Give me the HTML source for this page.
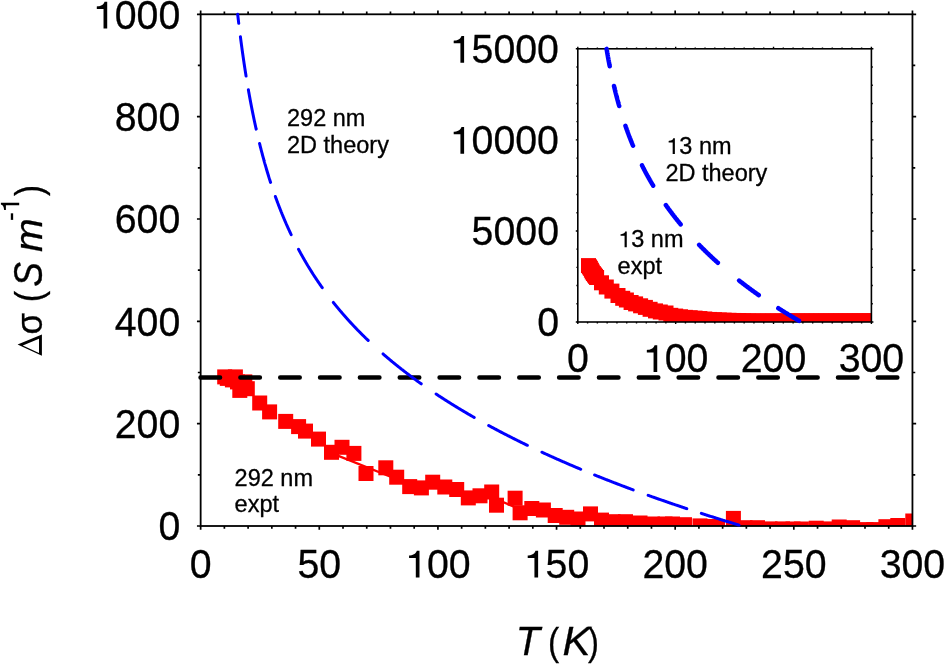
<!DOCTYPE html><html><head><meta charset="utf-8"><style>html,body{margin:0;padding:0;background:#fff;overflow:hidden}svg{display:block;will-change:transform}text{font-family:"Liberation Sans",sans-serif;stroke:#000;stroke-width:0.3px}</style></head><body>
<svg width="944" height="664" viewBox="0 0 944 664">
<defs><clipPath id="cm"><rect x="200.65" y="14.30" width="711.80" height="511.70"/></clipPath>
<clipPath id="ci"><rect x="577.80" y="48.80" width="293.60" height="273.20"/></clipPath></defs>
<g clip-path="url(#cm)" fill="#ff0000">
<path d="M331.5 453.2L400 480.5M497 499.5L514 506.6" fill="none" stroke="#ff0000" stroke-width="2.4"/>
<rect x="217.20" y="369.40" width="15.0" height="15.0"/>
<rect x="219.80" y="370.90" width="15.0" height="15.0"/>
<rect x="224.90" y="372.40" width="15.0" height="15.0"/>
<rect x="227.90" y="369.40" width="15.0" height="15.0"/>
<rect x="230.00" y="374.40" width="15.0" height="15.0"/>
<rect x="232.30" y="382.90" width="15.0" height="15.0"/>
<rect x="237.30" y="374.40" width="15.0" height="15.0"/>
<rect x="239.80" y="381.20" width="15.0" height="15.0"/>
<rect x="252.20" y="395.50" width="15.0" height="15.0"/>
<rect x="262.10" y="404.40" width="15.0" height="15.0"/>
<rect x="278.20" y="413.90" width="15.0" height="15.0"/>
<rect x="291.10" y="419.10" width="15.0" height="15.0"/>
<rect x="298.00" y="423.60" width="15.0" height="15.0"/>
<rect x="311.00" y="431.60" width="15.0" height="15.0"/>
<rect x="324.00" y="444.80" width="15.0" height="15.0"/>
<rect x="334.50" y="439.80" width="15.0" height="15.0"/>
<rect x="346.40" y="445.90" width="15.0" height="15.0"/>
<rect x="358.50" y="466.00" width="15.0" height="15.0"/>
<rect x="378.30" y="460.30" width="15.0" height="15.0"/>
<rect x="389.20" y="469.70" width="15.0" height="15.0"/>
<rect x="402.20" y="479.10" width="15.0" height="15.0"/>
<rect x="413.90" y="480.40" width="15.0" height="15.0"/>
<rect x="425.20" y="474.70" width="15.0" height="15.0"/>
<rect x="437.30" y="479.50" width="15.0" height="15.0"/>
<rect x="449.20" y="482.00" width="15.0" height="15.0"/>
<rect x="460.80" y="490.40" width="15.0" height="15.0"/>
<rect x="472.50" y="488.30" width="15.0" height="15.0"/>
<rect x="484.20" y="484.50" width="15.0" height="15.0"/>
<rect x="489.00" y="497.70" width="15.0" height="15.0"/>
<rect x="507.60" y="490.70" width="15.0" height="15.0"/>
<rect x="512.60" y="505.30" width="15.0" height="15.0"/>
<rect x="524.30" y="501.00" width="15.0" height="15.0"/>
<rect x="535.90" y="502.50" width="15.0" height="15.0"/>
<rect x="547.70" y="508.00" width="15.0" height="15.0"/>
<rect x="559.20" y="509.80" width="15.0" height="15.0"/>
<rect x="570.50" y="511.50" width="15.0" height="15.0"/>
<rect x="583.00" y="506.40" width="15.0" height="15.0"/>
<rect x="594.00" y="512.60" width="15.0" height="15.0"/>
<rect x="605.50" y="514.20" width="15.0" height="15.0"/>
<rect x="618.00" y="514.20" width="15.0" height="15.0"/>
<rect x="632.50" y="515.50" width="15.0" height="15.0"/>
<rect x="645.00" y="516.50" width="15.0" height="15.0"/>
<rect x="657.50" y="516.50" width="15.0" height="15.0"/>
<rect x="665.00" y="516.50" width="15.0" height="15.0"/>
<rect x="677.00" y="517.20" width="15.0" height="15.0"/>
<rect x="692.50" y="518.40" width="15.0" height="15.0"/>
<rect x="704.50" y="519.00" width="15.0" height="15.0"/>
<rect x="710.00" y="519.50" width="15.0" height="15.0"/>
<rect x="725.90" y="510.90" width="15.0" height="15.0"/>
<rect x="737.50" y="520.20" width="15.0" height="15.0"/>
<rect x="750.00" y="520.20" width="15.0" height="15.0"/>
<rect x="762.50" y="521.40" width="15.0" height="15.0"/>
<rect x="775.00" y="521.40" width="15.0" height="15.0"/>
<rect x="785.50" y="521.50" width="15.0" height="15.0"/>
<rect x="793.90" y="521.50" width="15.0" height="15.0"/>
<rect x="808.70" y="520.70" width="15.0" height="15.0"/>
<rect x="817.60" y="521.40" width="15.0" height="15.0"/>
<rect x="831.70" y="519.50" width="15.0" height="15.0"/>
<rect x="845.10" y="520.20" width="15.0" height="15.0"/>
<rect x="858.50" y="522.10" width="15.0" height="15.0"/>
<rect x="866.30" y="522.10" width="15.0" height="15.0"/>
<rect x="878.40" y="519.20" width="15.0" height="15.0"/>
<rect x="890.30" y="518.00" width="15.0" height="15.0"/>
<rect x="905.30" y="513.50" width="15.0" height="15.0"/>
</g>
<line x1="200.5" y1="377.5" x2="912.4" y2="377.5" stroke="#000" stroke-width="4.4" stroke-linecap="round" stroke-dasharray="19.6 20.24"/>
<g stroke="#000" stroke-width="1.8" fill="none">
<rect x="200.65" y="14.30" width="711.80" height="511.70"/>
<path d="M200.65 526.00v3.70M200.65 14.30v-3.70M224.38 526.00v2.80M224.38 14.30v-2.80M248.10 526.00v2.80M248.10 14.30v-2.80M271.83 526.00v2.80M271.83 14.30v-2.80M295.56 526.00v2.80M295.56 14.30v-2.80M319.28 526.00v3.70M319.28 14.30v-3.70M343.01 526.00v2.80M343.01 14.30v-2.80M366.74 526.00v2.80M366.74 14.30v-2.80M390.46 526.00v2.80M390.46 14.30v-2.80M414.19 526.00v2.80M414.19 14.30v-2.80M437.92 526.00v3.70M437.92 14.30v-3.70M461.64 526.00v2.80M461.64 14.30v-2.80M485.37 526.00v2.80M485.37 14.30v-2.80M509.10 526.00v2.80M509.10 14.30v-2.80M532.82 526.00v2.80M532.82 14.30v-2.80M556.55 526.00v3.70M556.55 14.30v-3.70M580.28 526.00v2.80M580.28 14.30v-2.80M604.00 526.00v2.80M604.00 14.30v-2.80M627.73 526.00v2.80M627.73 14.30v-2.80M651.46 526.00v2.80M651.46 14.30v-2.80M675.18 526.00v3.70M675.18 14.30v-3.70M698.91 526.00v2.80M698.91 14.30v-2.80M722.64 526.00v2.80M722.64 14.30v-2.80M746.36 526.00v2.80M746.36 14.30v-2.80M770.09 526.00v2.80M770.09 14.30v-2.80M793.82 526.00v3.70M793.82 14.30v-3.70M817.54 526.00v2.80M817.54 14.30v-2.80M841.27 526.00v2.80M841.27 14.30v-2.80M865.00 526.00v2.80M865.00 14.30v-2.80M888.72 526.00v2.80M888.72 14.30v-2.80M912.45 526.00v3.70M912.45 14.30v-3.70M200.65 526.00h-3.70M912.45 526.00h3.70M200.65 474.83h-2.80M912.45 474.83h2.80M200.65 423.66h-3.70M912.45 423.66h3.70M200.65 372.49h-2.80M912.45 372.49h2.80M200.65 321.32h-3.70M912.45 321.32h3.70M200.65 270.15h-2.80M912.45 270.15h2.80M200.65 218.98h-3.70M912.45 218.98h3.70M200.65 167.81h-2.80M912.45 167.81h2.80M200.65 116.64h-3.70M912.45 116.64h3.70M200.65 65.47h-2.80M912.45 65.47h2.80M200.65 14.30h-3.70M912.45 14.30h3.70" stroke-width="1.7"/>
</g>
<path d="M237.69 14.33 L237.77 15.06 L237.85 15.80 L237.94 16.53 L238.02 17.27 L238.11 18.00 L238.19 18.73 L238.28 19.46 L238.36 20.18 L238.45 20.91 L238.54 21.64 L238.62 22.36 L238.71 23.08 L238.73 23.26 M240.41 36.78 L240.50 37.48 L240.59 38.18 L240.68 38.88 L240.77 39.57 L240.86 40.27 L240.95 40.96 L241.04 41.66 L241.13 42.35 L241.23 43.04 L241.32 43.73 L241.41 44.42 L241.50 45.11 L241.60 45.80 L241.69 46.48 L241.78 47.17 L241.88 47.85 L241.97 48.53 L242.06 49.22 L242.16 49.90 L242.25 50.58 L242.35 51.25 L242.44 51.93 L242.54 52.61 L242.63 53.28 L242.73 53.96 L242.82 54.63 L242.92 55.30 L243.01 55.97 L243.11 56.64 L243.21 57.31 L243.30 57.98 L243.40 58.65 L243.50 59.31 L243.59 59.98 L243.69 60.64 L243.79 61.30 L243.89 61.97 L243.98 62.63 L244.08 63.29 L244.18 63.95 L244.28 64.60 L244.38 65.26 L244.48 65.92 L244.58 66.57 L244.68 67.22 L244.78 67.88 L244.88 68.53 L244.98 69.18 L245.08 69.83 L245.18 70.48 L245.28 71.12 L245.38 71.77 L245.48 72.42 L245.59 73.06 L245.69 73.70 L245.79 74.35 L245.89 74.99 L246.00 75.63 L246.07 76.11 M248.37 89.79 L248.48 90.41 L248.59 91.02 L248.69 91.64 L248.80 92.26 L248.91 92.87 L249.02 93.48 L249.13 94.10 L249.24 94.71 L249.35 95.32 L249.46 95.93 L249.57 96.54 L249.69 97.15 L249.80 97.75 L249.91 98.36 L250.02 98.97 L250.13 99.57 L250.24 100.17 L250.36 100.78 L250.47 101.38 L250.58 101.98 L250.70 102.58 L250.81 103.18 L250.92 103.78 L251.04 104.37 L251.15 104.97 L251.27 105.57 L251.38 106.16 L251.50 106.75 L251.61 107.35 L251.73 107.94 L251.84 108.53 L251.96 109.12 L252.08 109.71 L252.19 110.30 L252.31 110.89 L252.43 111.47 L252.55 112.06 L252.66 112.64 L252.78 113.23 L252.90 113.81 L253.02 114.40 L253.14 114.98 L253.26 115.56 L253.38 116.14 L253.50 116.72 L253.62 117.30 L253.74 117.87 L253.86 118.45 L253.98 119.03 L254.10 119.60 L254.22 120.18 L254.34 120.75 L254.46 121.32 L254.59 121.89 L254.71 122.46 L254.83 123.03 L254.95 123.60 L255.08 124.17 L255.20 124.74 L255.32 125.31 L255.45 125.87 L255.57 126.44 L255.70 127.00 L255.82 127.57 L255.95 128.13 L256.07 128.69 L256.17 129.11 M259.57 143.57 L259.71 144.11 L259.84 144.65 L259.98 145.19 L260.11 145.73 L260.25 146.27 L260.38 146.80 L260.52 147.34 L260.65 147.87 L260.79 148.41 L260.93 148.94 L261.06 149.48 L261.20 150.01 L261.34 150.54 L261.47 151.07 L261.61 151.60 L261.75 152.13 L261.89 152.66 L262.03 153.19 L262.17 153.72 L262.31 154.24 L262.45 154.77 L262.59 155.29 L262.73 155.82 L262.87 156.34 L263.01 156.87 L263.15 157.39 L263.29 157.91 L263.44 158.43 L263.58 158.95 L263.72 159.47 L263.87 159.99 L264.01 160.51 L264.15 161.03 L264.30 161.54 L264.44 162.06 L264.59 162.57 L264.73 163.09 L264.88 163.60 L265.02 164.12 L265.17 164.63 L265.32 165.14 L265.46 165.65 L265.61 166.16 L265.76 166.67 L265.90 167.18 L266.05 167.69 L266.20 168.20 L266.35 168.71 L266.50 169.22 L266.65 169.72 L266.80 170.23 L266.95 170.73 L267.10 171.24 L267.25 171.74 L267.40 172.24 L267.55 172.75 L267.70 173.25 L267.86 173.75 L268.01 174.25 L268.16 174.75 L268.32 175.25 L268.47 175.75 L268.62 176.24 L268.78 176.74 L268.93 177.24 L269.09 177.73 L269.24 178.23 L269.40 178.72 L269.55 179.22 L269.71 179.71 L269.87 180.21 L270.03 180.70 L270.18 181.19 L270.34 181.68 L270.50 182.17 L270.58 182.42 M275.37 196.49 L275.54 196.96 L275.71 197.44 L275.88 197.91 L276.05 198.38 L276.23 198.85 L276.40 199.32 L276.57 199.79 L276.74 200.26 L276.91 200.72 L277.09 201.19 L277.26 201.66 L277.44 202.13 L277.61 202.59 L277.78 203.06 L277.96 203.52 L278.14 203.99 L278.31 204.45 L278.49 204.91 L278.66 205.38 L278.84 205.84 L279.02 206.30 L279.20 206.76 L279.37 207.22 L279.55 207.68 L279.73 208.14 L279.91 208.60 L280.09 209.06 L280.27 209.52 L280.45 209.98 L280.63 210.43 L280.82 210.89 L281.00 211.35 L281.18 211.80 L281.36 212.26 L281.55 212.71 L281.73 213.16 L281.91 213.62 L282.10 214.07 L282.28 214.52 L282.47 214.98 L282.66 215.43 L282.84 215.88 L283.03 216.33 L283.21 216.78 L283.40 217.23 L283.59 217.68 L283.78 218.13 L283.97 218.57 L284.16 219.02 L284.35 219.47 L284.54 219.92 L284.73 220.36 L284.92 220.81 L285.11 221.25 L285.30 221.70 L285.49 222.14 L285.69 222.59 L285.88 223.03 L286.07 223.47 L286.27 223.91 L286.46 224.36 L286.66 224.80 L286.85 225.24 L287.05 225.68 L287.24 226.12 L287.44 226.56 L287.64 227.00 L287.83 227.44 L288.03 227.88 L288.23 228.31 L288.43 228.75 L288.63 229.19 L288.83 229.63 L289.03 230.06 L289.23 230.50 L289.43 230.93 L289.63 231.37 L289.83 231.80 L290.04 232.24 L290.24 232.67 L290.44 233.10 L290.65 233.54 L290.85 233.97 L291.05 234.40 L291.16 234.61 M298.52 249.25 L298.75 249.67 L298.97 250.09 L299.19 250.50 L299.42 250.92 L299.64 251.34 L299.86 251.75 L300.09 252.17 L300.32 252.58 L300.54 253.00 L300.77 253.41 L301.00 253.82 L301.22 254.24 L301.45 254.65 L301.68 255.06 L301.91 255.48 L302.14 255.89 L302.37 256.30 L302.60 256.71 L302.83 257.12 L303.06 257.53 L303.30 257.94 L303.53 258.35 L303.76 258.76 L304.00 259.17 L304.23 259.58 L304.47 259.99 L304.70 260.39 L304.94 260.80 L305.18 261.21 L305.41 261.62 L305.65 262.02 L305.89 262.43 L306.13 262.84 L306.37 263.24 L306.61 263.65 L306.85 264.05 L307.09 264.46 L307.33 264.86 L307.57 265.27 L307.82 265.67 L308.06 266.07 L308.30 266.48 L308.55 266.88 L308.79 267.28 L309.04 267.68 L309.29 268.09 L309.53 268.49 L309.78 268.89 L310.03 269.29 L310.28 269.69 L310.52 270.09 L310.77 270.49 L311.02 270.89 L311.27 271.29 L311.53 271.69 L311.78 272.09 L312.03 272.48 L312.28 272.88 L312.54 273.28 L312.79 273.68 L313.04 274.08 L313.30 274.47 L313.56 274.87 L313.81 275.27 L314.07 275.66 L314.33 276.06 L314.58 276.45 L314.84 276.85 L315.10 277.24 L315.36 277.64 L315.62 278.03 L315.88 278.43 L316.14 278.82 L316.41 279.21 L316.67 279.61 L316.93 280.00 L317.20 280.39 L317.46 280.78 L317.73 281.18 L317.99 281.57 L318.26 281.96 L318.53 282.35 L318.79 282.74 L319.06 283.13 L319.33 283.52 L319.60 283.91 L319.87 284.30 L320.14 284.69 L320.41 285.08 L320.68 285.47 L320.96 285.86 L321.23 286.25 L321.50 286.64 L321.78 287.03 L322.05 287.41 L322.26 287.71 M333.36 302.45 L333.66 302.83 L333.96 303.21 L334.26 303.58 L334.56 303.96 L334.87 304.34 L335.17 304.72 L335.48 305.10 L335.78 305.47 L336.09 305.85 L336.40 306.23 L336.71 306.60 L337.02 306.98 L337.33 307.36 L337.64 307.73 L337.95 308.11 L338.26 308.48 L338.57 308.86 L338.88 309.23 L339.20 309.61 L339.51 309.98 L339.83 310.36 L340.14 310.73 L340.46 311.11 L340.78 311.48 L341.10 311.85 L341.42 312.23 L341.74 312.60 L342.06 312.97 L342.38 313.35 L342.70 313.72 L343.02 314.09 L343.34 314.47 L343.67 314.84 L343.99 315.21 L344.32 315.58 L344.64 315.95 L344.97 316.33 L345.30 316.70 L345.63 317.07 L345.96 317.44 L346.29 317.81 L346.62 318.18 L346.95 318.55 L347.28 318.92 L347.61 319.29 L347.95 319.66 L348.28 320.03 L348.62 320.40 L348.95 320.77 L349.29 321.14 L349.63 321.51 L349.97 321.88 L350.30 322.25 L350.64 322.62 L350.98 322.99 L351.33 323.36 L351.67 323.73 L352.01 324.09 L352.35 324.46 L352.70 324.83 L353.04 325.20 L353.39 325.57 L353.74 325.93 L354.08 326.30 L354.43 326.67 L354.78 327.04 L355.13 327.40 L355.48 327.77 L355.83 328.14 L356.19 328.50 L356.54 328.87 L356.89 329.24 L357.25 329.60 L357.60 329.97 L357.96 330.33 L358.32 330.70 L358.68 331.06 L359.03 331.43 L359.39 331.80 L359.75 332.16 L360.12 332.53 L360.48 332.89 L360.84 333.26 L361.20 333.62 L361.57 333.99 L361.93 334.35 L362.30 334.71 L362.67 335.08 L363.03 335.44 L363.40 335.81 L363.77 336.17 L364.14 336.53 L364.51 336.90 L364.89 337.26 L365.26 337.62 L365.63 337.99 L366.01 338.35 L366.38 338.71 L366.76 339.08 L367.14 339.44 L367.51 339.80 L367.89 340.16 L368.18 340.44 M383.05 353.96 L383.46 354.32 L383.88 354.68 L384.29 355.03 L384.71 355.39 L385.13 355.75 L385.55 356.11 L385.97 356.47 L386.39 356.83 L386.81 357.18 L387.23 357.54 L387.66 357.90 L388.08 358.26 L388.51 358.62 L388.93 358.97 L389.36 359.33 L389.79 359.69 L390.22 360.05 L390.65 360.41 L391.08 360.76 L391.51 361.12 L391.95 361.48 L392.38 361.84 L392.82 362.19 L393.25 362.55 L393.69 362.91 L394.13 363.26 L394.57 363.62 L395.01 363.98 L395.45 364.34 L395.89 364.69 L396.33 365.05 L396.78 365.41 L397.22 365.76 L397.67 366.12 L398.12 366.48 L398.57 366.83 L399.01 367.19 L399.46 367.54 L399.92 367.90 L400.37 368.26 L400.82 368.61 L401.28 368.97 L401.73 369.33 L402.19 369.68 L402.65 370.04 L403.10 370.39 L403.56 370.75 L404.03 371.11 L404.49 371.46 L404.95 371.82 L405.41 372.17 L405.88 372.53 L406.34 372.89 L406.81 373.24 L407.28 373.60 L407.75 373.95 L408.22 374.31 L408.69 374.66 L409.16 375.02 L409.64 375.37 L410.11 375.73 L410.59 376.08 L411.06 376.44 L411.54 376.80 L412.02 377.15 L412.50 377.51 L412.98 377.86 L413.46 378.22 L413.95 378.57 L414.43 378.93 L414.91 379.28 L415.40 379.64 L415.89 379.99 L416.38 380.35 L416.87 380.70 L417.36 381.06 L417.85 381.41 L418.34 381.77 L418.84 382.12 L419.33 382.48 L419.83 382.83 L420.33 383.18 L420.83 383.54 L421.20 383.81 M436.06 393.99 L436.59 394.35 L437.13 394.70 L437.67 395.06 L438.21 395.41 L438.74 395.77 L439.29 396.12 L439.83 396.47 L440.37 396.83 L440.91 397.18 L441.46 397.54 L442.01 397.89 L442.55 398.24 L443.10 398.60 L443.65 398.95 L444.21 399.31 L444.76 399.66 L445.31 400.02 L445.87 400.37 L446.43 400.72 L446.98 401.08 L447.54 401.43 L448.10 401.79 L448.66 402.14 L449.23 402.49 L449.79 402.85 L450.36 403.20 L450.93 403.56 L451.49 403.91 L452.06 404.27 L452.63 404.62 L453.21 404.97 L453.78 405.33 L454.35 405.68 L454.93 406.04 L455.51 406.39 L456.09 406.75 L456.67 407.10 L457.25 407.45 L457.83 407.81 L458.41 408.16 L459.00 408.52 L459.59 408.87 L460.17 409.23 L460.76 409.58 L461.35 409.93 L461.94 410.29 L462.54 410.64 L463.13 411.00 L463.73 411.35 L464.33 411.71 L464.92 412.06 L465.52 412.41 L466.13 412.77 L466.73 413.12 L467.33 413.48 L467.94 413.83 L468.55 414.19 L469.15 414.54 L469.76 414.90 L470.37 415.25 L470.99 415.61 L471.60 415.96 L472.22 416.31 L472.83 416.67 L473.45 417.02 L474.07 417.38 L474.22 417.47 M488.71 425.54 L489.36 425.90 L490.02 426.25 L490.68 426.61 L491.33 426.96 L491.99 427.32 L492.66 427.67 L493.32 428.03 L493.98 428.39 L494.65 428.74 L495.32 429.10 L495.99 429.45 L496.66 429.81 L497.33 430.16 L498.00 430.52 L498.68 430.88 L499.35 431.23 L500.03 431.59 L500.71 431.94 L501.39 432.30 L502.08 432.65 L502.76 433.01 L503.45 433.37 L504.13 433.72 L504.82 434.08 L505.51 434.43 L506.21 434.79 L506.90 435.15 L507.59 435.50 L508.29 435.86 L508.99 436.21 L509.69 436.57 L510.39 436.93 L511.09 437.28 L511.80 437.64 L512.51 438.00 L513.21 438.35 L513.92 438.71 L514.63 439.07 L515.35 439.42 L516.06 439.78 L516.78 440.14 L517.50 440.49 L518.22 440.85 L518.94 441.21 L519.66 441.56 L520.38 441.92 L521.11 442.28 L521.84 442.63 L522.57 442.99 L523.30 443.35 L524.03 443.70 L524.76 444.06 L525.50 444.42 L526.24 444.78 L526.98 445.13 L527.35 445.31 M541.92 452.20 L542.70 452.55 L543.48 452.91 L544.25 453.27 L545.03 453.63 L545.82 453.99 L546.60 454.35 L547.39 454.70 L548.17 455.06 L548.96 455.42 L549.75 455.78 L550.55 456.14 L551.34 456.50 L552.14 456.86 L552.93 457.21 L553.73 457.57 L554.54 457.93 L555.34 458.29 L556.14 458.65 L556.95 459.01 L557.76 459.37 L558.57 459.73 L559.38 460.09 L560.20 460.45 L561.01 460.80 L561.83 461.16 L562.65 461.52 L563.47 461.88 L564.30 462.24 L565.12 462.60 L565.95 462.96 L566.78 463.32 L567.61 463.68 L568.45 464.04 L569.28 464.40 L570.12 464.76 L570.96 465.12 L571.80 465.48 L572.64 465.84 L573.48 466.20 L574.33 466.56 L575.18 466.92 L576.03 467.28 L576.88 467.64 L577.74 468.00 L578.59 468.36 L579.45 468.72 L580.31 469.08 L580.74 469.26 M594.56 474.94 L595.46 475.30 L596.35 475.66 L597.25 476.02 L598.15 476.39 L599.05 476.75 L599.96 477.11 L600.87 477.47 L601.77 477.83 L602.69 478.19 L603.60 478.55 L604.51 478.92 L605.43 479.28 L606.35 479.64 L607.27 480.00 L608.19 480.36 L609.12 480.72 L610.05 481.09 L610.98 481.45 L611.91 481.81 L612.84 482.17 L613.78 482.53 L614.71 482.90 L615.65 483.26 L616.60 483.62 L617.54 483.98 L618.49 484.35 L619.44 484.71 L620.39 485.07 L621.34 485.43 L622.30 485.80 L623.25 486.16 L624.21 486.52 L625.17 486.88 L626.14 487.25 L627.10 487.61 L628.07 487.97 L629.04 488.34 L630.01 488.70 L630.99 489.06 L631.97 489.42 L632.95 489.79 L633.19 489.88 M648.16 495.33 L649.17 495.69 L650.19 496.06 L651.21 496.42 L652.24 496.79 L653.26 497.15 L654.29 497.51 L655.32 497.88 L656.35 498.24 L657.39 498.61 L658.42 498.97 L659.46 499.33 L660.50 499.70 L661.55 500.06 L662.59 500.43 L663.64 500.79 L664.69 501.16 L665.75 501.52 L666.80 501.89 L667.86 502.25 L668.92 502.61 L669.99 502.98 L671.05 503.34 L672.12 503.71 L673.19 504.07 L674.26 504.44 L675.34 504.80 L676.42 505.17 L677.50 505.53 L678.58 505.90 L679.66 506.26 L680.75 506.63 L681.84 506.99 L682.93 507.36 L684.03 507.72 L685.13 508.09 L686.23 508.45 L686.78 508.64 M701.32 513.39 L702.46 513.76 L703.60 514.12 L704.74 514.49 L705.89 514.85 L707.03 515.22 L708.18 515.59 L709.33 515.95 L710.49 516.32 L711.65 516.68 L712.81 517.05 L713.97 517.42 L715.14 517.78 L716.30 518.15 L717.47 518.51 L718.65 518.88 L719.82 519.25 L721.00 519.61 L722.18 519.98 L723.37 520.35 L724.55 520.71 L725.74 521.08 L726.94 521.45 L728.13 521.81 L729.33 522.18 L730.53 522.55 L731.73 522.91 L732.94 523.28 L734.15 523.65 L735.36 524.01 L736.57 524.38 L737.79 524.75 L739.01 525.11 L739.01 525.11" fill="none" stroke="#0000ff" stroke-width="3.0" stroke-linecap="round" stroke-linejoin="round"/>
<g transform="translate(158.40,540.20) scale(0.982,1)"><text x="0" y="0" font-size="40.00" style="white-space:pre">0</text></g>
<g transform="translate(114.71,437.86) scale(0.982,1)"><text x="0" y="0" font-size="40.00" style="white-space:pre">200</text></g>
<g transform="translate(114.71,335.52) scale(0.982,1)"><text x="0" y="0" font-size="40.00" style="white-space:pre">400</text></g>
<g transform="translate(114.71,233.18) scale(0.982,1)"><text x="0" y="0" font-size="40.00" style="white-space:pre">600</text></g>
<g transform="translate(114.71,130.84) scale(0.982,1)"><text x="0" y="0" font-size="40.00" style="white-space:pre">800</text></g>
<g transform="translate(92.87,28.50) scale(0.982,1)"><text x="0" y="0" font-size="40.00" style="white-space:pre"> 000</text><path d="M14.6 0L14.6 -26.8L11.9 -26.8C11.3 -24.6 9.5 -22.6 4.9 -22.2L4.0 -22.1L4.0 -19.5L10.85 -19.5L10.85 0Z" transform="translate(0.00,0) scale(1.0000)"/></g>
<g transform="translate(189.73,577.60) scale(0.982,1)"><text x="0" y="0" font-size="40.00" style="white-space:pre">0</text></g>
<g transform="translate(297.44,577.60) scale(0.982,1)"><text x="0" y="0" font-size="40.00" style="white-space:pre">50</text></g>
<g transform="translate(405.15,577.60) scale(0.982,1)"><text x="0" y="0" font-size="40.00" style="white-space:pre"> 00</text><path d="M14.6 0L14.6 -26.8L11.9 -26.8C11.3 -24.6 9.5 -22.6 4.9 -22.2L4.0 -22.1L4.0 -19.5L10.85 -19.5L10.85 0Z" transform="translate(0.00,0) scale(1.0000)"/></g>
<g transform="translate(523.78,577.60) scale(0.982,1)"><text x="0" y="0" font-size="40.00" style="white-space:pre"> 50</text><path d="M14.6 0L14.6 -26.8L11.9 -26.8C11.3 -24.6 9.5 -22.6 4.9 -22.2L4.0 -22.1L4.0 -19.5L10.85 -19.5L10.85 0Z" transform="translate(0.00,0) scale(1.0000)"/></g>
<g transform="translate(642.41,577.60) scale(0.982,1)"><text x="0" y="0" font-size="40.00" style="white-space:pre">200</text></g>
<g transform="translate(761.05,577.60) scale(0.982,1)"><text x="0" y="0" font-size="40.00" style="white-space:pre">250</text></g>
<g transform="translate(879.68,577.60) scale(0.982,1)"><text x="0" y="0" font-size="40.00" style="white-space:pre">300</text></g>
<text transform="translate(515.74,655.00) scale(0.9742,1)" font-size="40.70" font-style="italic">T</text>
<text transform="translate(548.12,654.80) scale(0.8687,1)" font-size="38.64">(</text>
<text transform="translate(562.41,655.30) scale(1.0225,1)" font-size="40.99" font-style="italic">K</text>
<text transform="translate(588.11,654.80) scale(0.8492,1)" font-size="38.64">)</text>
<path fill-rule="evenodd" d="M17.6 344.6L41.9 334.4L41.9 355.8ZM22.8 345.56L39 353.03L39 338.76Z"/>
<g transform="rotate(-90)">
<text transform="translate(-334.57,42.13) scale(0.9322,1)" font-size="37.54">σ</text>
<text transform="translate(-302.13,41.61) scale(0.8785,1)" font-size="39.07">(</text>
<text transform="translate(-286.65,42.10) scale(0.8997,1)" font-size="41.24" font-style="italic">S</text>
<text transform="translate(-252.07,41.90) scale(1.0422,1)" font-size="38.88" font-style="italic">m</text>
<text transform="translate(-221.06,18.91) scale(1.0082,1)" font-size="26.00">-</text>
<text transform="translate(-195.99,41.66) scale(0.8445,1)" font-size="38.86">)</text>
<path d="M14.6 0L14.6 -26.8L11.9 -26.8C11.3 -24.6 9.5 -22.6 4.9 -22.2L4.0 -22.1L4.0 -19.5L10.85 -19.5L10.85 0Z" transform="translate(-212.64,19.2) scale(0.6828)"/>
</g>
<text font-size="23.5"><tspan x="287.0" y="126.4">292 nm</tspan><tspan x="287.0" y="152.8">2D theory</tspan></text>
<text font-size="23.5"><tspan x="234.6" y="486.3">292 nm</tspan><tspan x="234.6" y="512.4">expt</tspan></text>
<rect x="577.80" y="48.80" width="293.60" height="273.20" fill="#fff"/>
<g clip-path="url(#ci)" fill="#ff0000">
<rect x="581.00" y="258.10" width="15.0" height="15.0"/>
<rect x="582.00" y="259.40" width="15.0" height="15.0"/>
<rect x="582.90" y="260.80" width="15.0" height="15.0"/>
<rect x="583.90" y="262.70" width="15.0" height="15.0"/>
<rect x="584.80" y="264.50" width="15.0" height="15.0"/>
<rect x="585.90" y="266.10" width="15.0" height="15.0"/>
<rect x="587.00" y="267.50" width="15.0" height="15.0"/>
<rect x="588.00" y="268.80" width="15.0" height="15.0"/>
<rect x="589.10" y="270.00" width="15.0" height="15.0"/>
<rect x="594.00" y="275.30" width="15.0" height="15.0"/>
<rect x="598.80" y="279.50" width="15.0" height="15.0"/>
<rect x="604.40" y="283.60" width="15.0" height="15.0"/>
<rect x="610.50" y="288.00" width="15.0" height="15.0"/>
<rect x="615.20" y="290.80" width="15.0" height="15.0"/>
<rect x="618.90" y="292.50" width="15.0" height="15.0"/>
<rect x="623.60" y="295.00" width="15.0" height="15.0"/>
<rect x="628.10" y="296.40" width="15.0" height="15.0"/>
<rect x="633.10" y="298.30" width="15.0" height="15.0"/>
<rect x="637.90" y="299.90" width="15.0" height="15.0"/>
<rect x="642.60" y="301.80" width="15.0" height="15.0"/>
<rect x="648.00" y="303.40" width="15.0" height="15.0"/>
<rect x="652.80" y="304.50" width="15.0" height="15.0"/>
<rect x="658.50" y="305.50" width="15.0" height="15.0"/>
<rect x="663.30" y="307.83" width="15.0" height="15.0"/>
<rect x="668.15" y="308.56" width="15.0" height="15.0"/>
<rect x="673.00" y="309.28" width="15.0" height="15.0"/>
<rect x="677.85" y="309.86" width="15.0" height="15.0"/>
<rect x="682.70" y="310.24" width="15.0" height="15.0"/>
<rect x="687.55" y="310.62" width="15.0" height="15.0"/>
<rect x="692.40" y="311.06" width="15.0" height="15.0"/>
<rect x="697.25" y="311.52" width="15.0" height="15.0"/>
<rect x="702.10" y="311.94" width="15.0" height="15.0"/>
<rect x="706.95" y="312.21" width="15.0" height="15.0"/>
<rect x="711.80" y="312.48" width="15.0" height="15.0"/>
<rect x="716.65" y="312.68" width="15.0" height="15.0"/>
<rect x="721.50" y="312.82" width="15.0" height="15.0"/>
<rect x="726.35" y="312.96" width="15.0" height="15.0"/>
<rect x="731.20" y="313.10" width="15.0" height="15.0"/>
<rect x="736.05" y="313.24" width="15.0" height="15.0"/>
<rect x="740.90" y="313.38" width="15.0" height="15.0"/>
<rect x="745.75" y="313.50" width="15.0" height="15.0"/>
<rect x="750.60" y="313.49" width="15.0" height="15.0"/>
<rect x="755.45" y="313.48" width="15.0" height="15.0"/>
<rect x="760.30" y="313.47" width="15.0" height="15.0"/>
<rect x="765.15" y="313.47" width="15.0" height="15.0"/>
<rect x="770.00" y="313.46" width="15.0" height="15.0"/>
<rect x="774.85" y="313.45" width="15.0" height="15.0"/>
<rect x="779.70" y="313.44" width="15.0" height="15.0"/>
<rect x="784.55" y="313.43" width="15.0" height="15.0"/>
<rect x="789.40" y="313.43" width="15.0" height="15.0"/>
<rect x="794.25" y="313.42" width="15.0" height="15.0"/>
<rect x="799.10" y="313.41" width="15.0" height="15.0"/>
<rect x="803.95" y="313.40" width="15.0" height="15.0"/>
<rect x="808.80" y="313.39" width="15.0" height="15.0"/>
<rect x="813.65" y="313.39" width="15.0" height="15.0"/>
<rect x="818.50" y="313.38" width="15.0" height="15.0"/>
<rect x="823.35" y="313.37" width="15.0" height="15.0"/>
<rect x="828.20" y="313.36" width="15.0" height="15.0"/>
<rect x="833.05" y="313.35" width="15.0" height="15.0"/>
<rect x="837.90" y="313.35" width="15.0" height="15.0"/>
<rect x="842.75" y="313.34" width="15.0" height="15.0"/>
<rect x="847.60" y="313.33" width="15.0" height="15.0"/>
<rect x="852.45" y="313.32" width="15.0" height="15.0"/>
<rect x="857.30" y="313.31" width="15.0" height="15.0"/>
<rect x="862.15" y="313.30" width="15.0" height="15.0"/>
<rect x="867.00" y="313.30" width="15.0" height="15.0"/>
<rect x="871.85" y="313.30" width="15.0" height="15.0"/>
</g>
<g stroke="#000" fill="none">
<rect x="577.80" y="48.80" width="293.60" height="273.20" stroke-width="1.6"/>
<path d="M577.80 322.00v2.00M577.80 48.80v-2.00M587.59 322.00v1.40M587.59 48.80v-1.40M597.37 322.00v1.40M597.37 48.80v-1.40M607.16 322.00v1.40M607.16 48.80v-1.40M616.95 322.00v1.40M616.95 48.80v-1.40M626.73 322.00v1.40M626.73 48.80v-1.40M636.52 322.00v1.40M636.52 48.80v-1.40M646.31 322.00v1.40M646.31 48.80v-1.40M656.09 322.00v1.40M656.09 48.80v-1.40M665.88 322.00v1.40M665.88 48.80v-1.40M675.67 322.00v2.00M675.67 48.80v-2.00M685.45 322.00v1.40M685.45 48.80v-1.40M695.24 322.00v1.40M695.24 48.80v-1.40M705.03 322.00v1.40M705.03 48.80v-1.40M714.81 322.00v1.40M714.81 48.80v-1.40M724.60 322.00v1.40M724.60 48.80v-1.40M734.39 322.00v1.40M734.39 48.80v-1.40M744.17 322.00v1.40M744.17 48.80v-1.40M753.96 322.00v1.40M753.96 48.80v-1.40M763.75 322.00v1.40M763.75 48.80v-1.40M773.53 322.00v2.00M773.53 48.80v-2.00M783.32 322.00v1.40M783.32 48.80v-1.40M793.11 322.00v1.40M793.11 48.80v-1.40M802.89 322.00v1.40M802.89 48.80v-1.40M812.68 322.00v1.40M812.68 48.80v-1.40M822.47 322.00v1.40M822.47 48.80v-1.40M832.25 322.00v1.40M832.25 48.80v-1.40M842.04 322.00v1.40M842.04 48.80v-1.40M851.83 322.00v1.40M851.83 48.80v-1.40M861.61 322.00v1.40M861.61 48.80v-1.40M871.40 322.00v2.00M871.40 48.80v-2.00M577.80 322.00h-2.00M871.40 322.00h2.00M577.80 303.79h-1.40M871.40 303.79h1.40M577.80 285.57h-1.40M871.40 285.57h1.40M577.80 267.36h-1.40M871.40 267.36h1.40M577.80 249.15h-1.40M871.40 249.15h1.40M577.80 230.93h-2.00M871.40 230.93h2.00M577.80 212.72h-1.40M871.40 212.72h1.40M577.80 194.51h-1.40M871.40 194.51h1.40M577.80 176.29h-1.40M871.40 176.29h1.40M577.80 158.08h-1.40M871.40 158.08h1.40M577.80 139.87h-2.00M871.40 139.87h2.00M577.80 121.65h-1.40M871.40 121.65h1.40M577.80 103.44h-1.40M871.40 103.44h1.40M577.80 85.23h-1.40M871.40 85.23h1.40M577.80 67.01h-1.40M871.40 67.01h1.40M577.80 48.80h-2.00M871.40 48.80h2.00" stroke-width="1.4"/>
</g>
<path d="M606.58 48.89 L606.64 49.28 L606.71 49.67 L606.77 50.06 L606.84 50.45 L606.91 50.83 L606.97 51.22 L607.04 51.61 L607.11 51.99 L607.17 52.38 L607.24 52.76 L607.31 53.15 L607.37 53.53 L607.44 53.91 L607.51 54.30 L607.57 54.68 L607.64 55.06 L607.71 55.44 L607.78 55.82 L607.85 56.21 L607.91 56.59 L607.98 56.97 L608.05 57.34 L608.12 57.72 L608.19 58.10 L608.26 58.48 L608.33 58.86 L608.40 59.23 L608.46 59.61 L608.53 59.99 L608.60 60.36 L608.67 60.74 L608.74 61.11 L608.81 61.49 L608.89 61.86 L608.96 62.23 L609.03 62.61 L609.10 62.98 L609.17 63.35 L609.24 63.72 L609.31 64.09 L609.38 64.46 L609.45 64.84 L609.53 65.21 L609.60 65.57 L609.67 65.94 L609.72 66.22 M614.01 86.06 L614.09 86.41 L614.17 86.76 L614.25 87.10 L614.34 87.45 L614.42 87.79 L614.50 88.14 L614.59 88.48 L614.67 88.83 L614.75 89.17 L614.84 89.52 L614.92 89.86 L615.01 90.20 L615.09 90.54 L615.17 90.89 L615.26 91.23 L615.34 91.57 L615.43 91.91 L615.52 92.25 L615.60 92.59 L615.69 92.93 L615.77 93.27 L615.86 93.61 L615.95 93.95 L616.03 94.29 L616.12 94.63 L616.21 94.97 L616.29 95.31 L616.38 95.65 L616.47 95.98 L616.56 96.32 L616.64 96.66 L616.73 96.99 L616.82 97.33 L616.91 97.67 L617.00 98.00 L617.09 98.34 L617.18 98.67 L617.27 99.01 L617.35 99.34 L617.44 99.67 L617.53 100.01 L617.62 100.34 L617.72 100.67 L617.81 101.01 L617.90 101.34 L617.99 101.67 L618.08 102.00 L618.17 102.34 L618.26 102.67 L618.35 103.00 L618.45 103.33 L618.54 103.66 L618.63 103.99 L618.72 104.32 L618.82 104.65 L618.91 104.98 L619.00 105.31 L619.10 105.63 L619.19 105.96 L619.21 106.05 M625.44 125.80 L625.55 126.12 L625.66 126.43 L625.76 126.74 L625.87 127.05 L625.98 127.36 L626.09 127.67 L626.20 127.98 L626.31 128.30 L626.42 128.61 L626.53 128.92 L626.64 129.23 L626.75 129.54 L626.86 129.85 L626.98 130.16 L627.09 130.47 L627.20 130.77 L627.31 131.08 L627.42 131.39 L627.54 131.70 L627.65 132.01 L627.76 132.32 L627.88 132.62 L627.99 132.93 L628.10 133.24 L628.22 133.55 L628.33 133.85 L628.45 134.16 L628.56 134.47 L628.68 134.77 L628.79 135.08 L628.91 135.39 L629.02 135.69 L629.14 136.00 L629.26 136.30 L629.37 136.61 L629.49 136.91 L629.61 137.22 L629.73 137.52 L629.84 137.83 L629.96 138.13 L630.08 138.44 L630.20 138.74 L630.32 139.05 L630.44 139.35 L630.56 139.65 L630.68 139.96 L630.80 140.26 L630.92 140.56 L631.04 140.86 L631.16 141.17 L631.28 141.47 L631.40 141.77 L631.52 142.07 L631.65 142.38 L631.77 142.68 L631.89 142.98 L632.01 143.28 L632.14 143.58 L632.26 143.88 L632.38 144.18 L632.51 144.48 L632.63 144.78 L632.76 145.08 L632.88 145.38 L633.01 145.69 L633.01 145.69 M642.03 165.38 L642.17 165.67 L642.32 165.97 L642.47 166.26 L642.61 166.55 L642.76 166.84 L642.91 167.13 L643.06 167.42 L643.20 167.71 L643.35 168.00 L643.50 168.29 L643.65 168.58 L643.80 168.87 L643.95 169.16 L644.10 169.45 L644.25 169.73 L644.40 170.02 L644.55 170.31 L644.70 170.60 L644.86 170.89 L645.01 171.18 L645.16 171.47 L645.31 171.76 L645.47 172.05 L645.62 172.33 L645.77 172.62 L645.93 172.91 L646.08 173.20 L646.24 173.49 L646.39 173.78 L646.55 174.06 L646.71 174.35 L646.86 174.64 L647.02 174.93 L647.18 175.21 L647.33 175.50 L647.49 175.79 L647.65 176.08 L647.81 176.36 L647.97 176.65 L648.13 176.94 L648.29 177.22 L648.45 177.51 L648.61 177.80 L648.77 178.09 L648.93 178.37 L649.09 178.66 L649.25 178.94 L649.41 179.23 L649.58 179.52 L649.74 179.80 L649.90 180.09 L650.07 180.38 L650.23 180.66 L650.40 180.95 L650.56 181.23 L650.73 181.52 L650.89 181.81 L651.06 182.09 L651.22 182.38 L651.39 182.66 L651.56 182.95 L651.72 183.23 L651.89 183.52 L652.06 183.80 L652.23 184.09 L652.40 184.37 L652.57 184.66 L652.74 184.94 L652.91 185.23 L653.08 185.51 L653.16 185.66 M665.88 205.12 L666.08 205.40 L666.28 205.68 L666.48 205.97 L666.68 206.25 L666.88 206.53 L667.09 206.81 L667.29 207.09 L667.49 207.37 L667.70 207.66 L667.90 207.94 L668.10 208.22 L668.31 208.50 L668.51 208.78 L668.72 209.06 L668.93 209.35 L669.13 209.63 L669.34 209.91 L669.55 210.19 L669.76 210.47 L669.97 210.75 L670.18 211.03 L670.38 211.32 L670.60 211.60 L670.81 211.88 L671.02 212.16 L671.23 212.44 L671.44 212.72 L671.65 213.00 L671.87 213.28 L672.08 213.57 L672.29 213.85 L672.51 214.13 L672.72 214.41 L672.94 214.69 L673.16 214.97 L673.37 215.25 L673.59 215.53 L673.81 215.82 L674.02 216.10 L674.24 216.38 L674.46 216.66 L674.68 216.94 L674.90 217.22 L675.12 217.50 L675.34 217.78 L675.56 218.07 L675.79 218.35 L676.01 218.63 L676.23 218.91 L676.45 219.19 L676.68 219.47 L676.90 219.75 L677.13 220.03 L677.35 220.31 L677.58 220.60 L677.81 220.88 L678.03 221.16 L678.26 221.44 L678.49 221.72 L678.72 222.00 L678.95 222.28 L679.18 222.56 L679.41 222.84 L679.64 223.13 L679.87 223.41 L680.10 223.69 L680.33 223.97 L680.57 224.25 L680.62 224.32 M699.14 244.87 L699.41 245.15 L699.69 245.44 L699.96 245.72 L700.24 246.00 L700.52 246.28 L700.80 246.57 L701.08 246.85 L701.36 247.13 L701.64 247.41 L701.92 247.70 L702.20 247.98 L702.48 248.26 L702.77 248.54 L703.05 248.83 L703.33 249.11 L703.62 249.39 L703.91 249.67 L704.19 249.96 L704.48 250.24 L704.77 250.52 L705.05 250.80 L705.34 251.09 L705.63 251.37 L705.92 251.65 L706.21 251.94 L706.51 252.22 L706.80 252.50 L707.09 252.78 L707.38 253.07 L707.68 253.35 L707.97 253.63 L708.27 253.92 L708.57 254.20 L708.86 254.48 L709.16 254.77 L709.46 255.05 L709.76 255.33 L710.06 255.62 L710.36 255.90 L710.66 256.18 L710.96 256.47 L711.26 256.75 L711.56 257.03 L711.87 257.32 L712.17 257.60 L712.48 257.88 L712.78 258.17 L713.09 258.45 L713.40 258.73 L713.71 259.02 L714.01 259.30 L714.32 259.59 L714.63 259.87 L714.94 260.15 L715.26 260.44 L715.57 260.72 L715.88 261.00 L716.19 261.29 L716.51 261.57 L716.82 261.86 L717.14 262.14 L717.45 262.42 L717.77 262.71 L717.85 262.78 M739.09 280.54 L739.45 280.83 L739.82 281.11 L740.19 281.40 L740.56 281.69 L740.93 281.97 L741.30 282.26 L741.67 282.55 L742.04 282.83 L742.41 283.12 L742.79 283.41 L743.16 283.69 L743.54 283.98 L743.91 284.27 L744.29 284.56 L744.67 284.84 L745.05 285.13 L745.43 285.42 L745.81 285.70 L746.19 285.99 L746.57 286.28 L746.95 286.57 L747.34 286.85 L747.72 287.14 L748.11 287.43 L748.49 287.72 L748.88 288.00 L749.27 288.29 L749.66 288.58 L750.05 288.87 L750.44 289.15 L750.83 289.44 L751.23 289.73 L751.62 290.02 L752.01 290.30 L752.41 290.59 L752.81 290.88 L753.20 291.17 L753.60 291.46 L754.00 291.74 L754.40 292.03 L754.80 292.32 L755.20 292.61 L755.61 292.90 L756.01 293.18 L756.42 293.47 L756.82 293.76 L757.23 294.05 L757.63 294.34 L758.04 294.63 L758.45 294.91 L758.76 295.13 M778.32 308.22 L778.77 308.51 L779.23 308.80 L779.68 309.09 L780.14 309.38 L780.60 309.67 L781.06 309.96 L781.52 310.25 L781.99 310.54 L782.45 310.83 L782.92 311.12 L783.38 311.41 L783.85 311.70 L784.32 311.99 L784.78 312.28 L785.25 312.57 L785.73 312.86 L786.20 313.15 L786.67 313.44 L787.14 313.73 L787.62 314.02 L788.10 314.31 L788.57 314.61 L789.05 314.90 L789.53 315.19 L790.01 315.48 L790.49 315.77 L790.98 316.06 L791.46 316.35 L791.95 316.64 L792.43 316.93 L792.92 317.22 L793.41 317.51 L793.90 317.80 L794.39 318.09 L794.88 318.39 L795.37 318.68 L795.87 318.97 L796.36 319.26 L796.86 319.55 L797.36 319.84 L797.85 320.13 L798.35 320.42 L798.85 320.71 L798.98 320.79" fill="none" stroke="#0000ff" stroke-width="4.5" stroke-linecap="round" stroke-linejoin="round"/>
<g transform="translate(537.15,336.00) scale(0.982,1)"><text x="0" y="0" font-size="40.00" style="white-space:pre">0</text></g>
<g transform="translate(471.62,244.93) scale(0.982,1)"><text x="0" y="0" font-size="40.00" style="white-space:pre">5000</text></g>
<g transform="translate(449.77,153.87) scale(0.982,1)"><text x="0" y="0" font-size="40.00" style="white-space:pre"> 0000</text><path d="M14.6 0L14.6 -26.8L11.9 -26.8C11.3 -24.6 9.5 -22.6 4.9 -22.2L4.0 -22.1L4.0 -19.5L10.85 -19.5L10.85 0Z" transform="translate(0.00,0) scale(1.0000)"/></g>
<g transform="translate(449.77,62.80) scale(0.982,1)"><text x="0" y="0" font-size="40.00" style="white-space:pre"> 5000</text><path d="M14.6 0L14.6 -26.8L11.9 -26.8C11.3 -24.6 9.5 -22.6 4.9 -22.2L4.0 -22.1L4.0 -19.5L10.85 -19.5L10.85 0Z" transform="translate(0.00,0) scale(1.0000)"/></g>
<g transform="translate(566.88,372.00) scale(0.982,1)"><text x="0" y="0" font-size="40.00" style="white-space:pre">0</text></g>
<g transform="translate(642.90,372.00) scale(0.982,1)"><text x="0" y="0" font-size="40.00" style="white-space:pre"> 00</text><path d="M14.6 0L14.6 -26.8L11.9 -26.8C11.3 -24.6 9.5 -22.6 4.9 -22.2L4.0 -22.1L4.0 -19.5L10.85 -19.5L10.85 0Z" transform="translate(0.00,0) scale(1.0000)"/></g>
<g transform="translate(740.76,372.00) scale(0.982,1)"><text x="0" y="0" font-size="40.00" style="white-space:pre">200</text></g>
<g transform="translate(838.63,372.00) scale(0.982,1)"><text x="0" y="0" font-size="40.00" style="white-space:pre">300</text></g>
<text x="666.30" y="153.90" font-size="23.50" style="white-space:pre"> 3 nm</text><path d="M14.6 0L14.6 -26.8L11.9 -26.8C11.3 -24.6 9.5 -22.6 4.9 -22.2L4.0 -22.1L4.0 -19.5L10.85 -19.5L10.85 0Z" transform="translate(666.30,153.90) scale(0.5875)"/>
<text x="665.40" y="180.60" font-size="23.50" style="white-space:pre">2D theory</text>
<text x="618.20" y="247.30" font-size="23.50" style="white-space:pre"> 3 nm</text><path d="M14.6 0L14.6 -26.8L11.9 -26.8C11.3 -24.6 9.5 -22.6 4.9 -22.2L4.0 -22.1L4.0 -19.5L10.85 -19.5L10.85 0Z" transform="translate(618.20,247.30) scale(0.5875)"/>
<text x="617.60" y="273.80" font-size="23.50" style="white-space:pre">expt</text>
</svg></body></html>
